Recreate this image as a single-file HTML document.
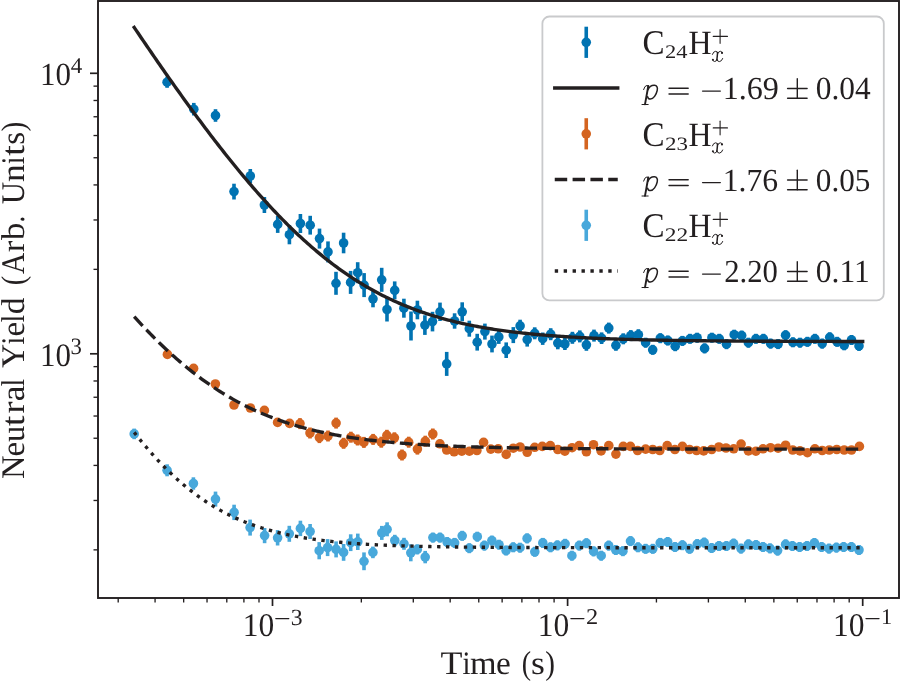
<!DOCTYPE html>
<html><head><meta charset="utf-8"><style>html,body{margin:0;padding:0;background:#fff;overflow:hidden}svg{display:block}text{font-family:"Liberation Serif",serif;text-rendering:geometricPrecision}</style></head><body><svg width="900" height="682" viewBox="0 0 900 682"><rect width="900" height="682" fill="#fff"/><defs><clipPath id="ax"><rect x="98" y="1" width="801" height="597"/></clipPath></defs><g clip-path="url(#ax)"><g stroke="#0173b2" stroke-width="3.6"><line x1="167.1" y1="76.6" x2="167.1" y2="87.8"/><line x1="193.8" y1="102.9" x2="193.8" y2="115.5"/><line x1="215.5" y1="109.2" x2="215.5" y2="121.8"/><line x1="234.0" y1="183.7" x2="234.0" y2="199.5"/><line x1="250.3" y1="169.0" x2="250.3" y2="183.0"/><line x1="264.4" y1="197.0" x2="264.4" y2="213.0"/><line x1="277.7" y1="215.9" x2="277.7" y2="232.9"/><line x1="289.4" y1="225.1" x2="289.4" y2="244.3"/><line x1="300.4" y1="214.0" x2="300.4" y2="233.0"/><line x1="310.2" y1="215.8" x2="310.2" y2="234.6"/><line x1="319.5" y1="228.6" x2="319.5" y2="248.6"/><line x1="328.0" y1="241.4" x2="328.0" y2="262.4"/><line x1="336.0" y1="271.8" x2="336.0" y2="294.8"/><line x1="343.6" y1="232.7" x2="343.6" y2="253.3"/><line x1="350.6" y1="270.9" x2="350.6" y2="293.9"/><line x1="357.7" y1="262.2" x2="357.7" y2="283.2"/><line x1="364.1" y1="273.1" x2="364.1" y2="297.1"/><line x1="373.0" y1="290.3" x2="373.0" y2="307.3"/><line x1="381.7" y1="267.8" x2="381.7" y2="291.8"/><line x1="387.0" y1="297.5" x2="387.0" y2="321.5"/><line x1="394.7" y1="281.4" x2="394.7" y2="299.4"/><line x1="403.9" y1="298.7" x2="403.9" y2="317.7"/><line x1="411.0" y1="311.5" x2="411.0" y2="340.5"/><line x1="417.4" y1="300.7" x2="417.4" y2="319.3"/><line x1="424.9" y1="315.3" x2="424.9" y2="334.9"/><line x1="432.5" y1="311.8" x2="432.5" y2="331.4"/><line x1="440.0" y1="302.6" x2="440.0" y2="321.0"/><line x1="446.7" y1="351.9" x2="446.7" y2="375.9"/><line x1="454.6" y1="313.3" x2="454.6" y2="328.7"/><line x1="462.2" y1="302.3" x2="462.2" y2="321.3"/><line x1="469.3" y1="320.7" x2="469.3" y2="336.7"/><line x1="477.2" y1="333.8" x2="477.2" y2="350.6"/><line x1="484.9" y1="323.6" x2="484.9" y2="339.6"/><line x1="492.0" y1="335.6" x2="492.0" y2="352.4"/><line x1="498.8" y1="329.9" x2="498.8" y2="343.9"/><line x1="506.2" y1="342.4" x2="506.2" y2="358.0"/><line x1="513.3" y1="327.1" x2="513.3" y2="343.1"/><line x1="520.1" y1="319.7" x2="520.1" y2="332.1"/><line x1="527.2" y1="332.6" x2="527.2" y2="346.6"/><line x1="534.7" y1="327.3" x2="534.7" y2="339.3"/><line x1="542.7" y1="332.5" x2="542.7" y2="344.9"/><line x1="550.7" y1="328.2" x2="550.7" y2="340.2"/><line x1="557.8" y1="336.9" x2="557.8" y2="349.3"/><line x1="564.9" y1="338.0" x2="564.9" y2="350.0"/><line x1="572.4" y1="331.8" x2="572.4" y2="343.8"/><line x1="579.8" y1="330.4" x2="579.8" y2="342.4"/><line x1="586.4" y1="338.8" x2="586.4" y2="350.8"/><line x1="594.0" y1="329.6" x2="594.0" y2="341.6"/><line x1="601.6" y1="332.4" x2="601.6" y2="344.0"/><line x1="608.8" y1="322.6" x2="608.8" y2="333.6"/><line x1="615.9" y1="339.8" x2="615.9" y2="350.8"/><line x1="623.3" y1="333.3" x2="623.3" y2="344.3"/><line x1="630.8" y1="330.1" x2="630.8" y2="341.1"/><line x1="638.4" y1="329.2" x2="638.4" y2="340.2"/><line x1="645.6" y1="337.7" x2="645.6" y2="347.7"/><line x1="652.7" y1="344.8" x2="652.7" y2="354.8"/><line x1="660.3" y1="333.2" x2="660.3" y2="343.2"/><line x1="667.8" y1="335.5" x2="667.8" y2="345.5"/><line x1="675.2" y1="341.2" x2="675.2" y2="351.2"/><line x1="682.4" y1="335.9" x2="682.4" y2="345.9"/><line x1="690.0" y1="333.8" x2="690.0" y2="343.8"/><line x1="697.1" y1="332.7" x2="697.1" y2="342.7"/><line x1="704.6" y1="343.4" x2="704.6" y2="353.4"/><line x1="711.9" y1="332.7" x2="711.9" y2="342.7"/><line x1="719.3" y1="333.8" x2="719.3" y2="343.8"/><line x1="726.5" y1="339.2" x2="726.5" y2="349.2"/><line x1="734.2" y1="329.7" x2="734.2" y2="339.7"/><line x1="741.7" y1="330.6" x2="741.7" y2="340.6"/><line x1="748.4" y1="337.7" x2="748.4" y2="347.7"/><line x1="755.9" y1="333.8" x2="755.9" y2="343.8"/><line x1="763.4" y1="333.8" x2="763.4" y2="343.8"/><line x1="770.6" y1="338.6" x2="770.6" y2="348.6"/><line x1="778.1" y1="339.1" x2="778.1" y2="349.1"/><line x1="785.6" y1="330.2" x2="785.6" y2="340.2"/><line x1="792.9" y1="337.3" x2="792.9" y2="347.3"/><line x1="800.0" y1="337.7" x2="800.0" y2="347.7"/><line x1="807.4" y1="336.8" x2="807.4" y2="346.8"/><line x1="814.9" y1="333.8" x2="814.9" y2="343.8"/><line x1="822.2" y1="338.6" x2="822.2" y2="348.6"/><line x1="829.7" y1="332.3" x2="829.7" y2="342.3"/><line x1="837.1" y1="336.8" x2="837.1" y2="346.8"/><line x1="844.2" y1="340.3" x2="844.2" y2="350.3"/><line x1="851.5" y1="335.0" x2="851.5" y2="345.0"/><line x1="859.0" y1="340.9" x2="859.0" y2="350.9"/></g><g fill="#0173b2"><circle cx="167.1" cy="82.2" r="4.8"/><circle cx="193.8" cy="109.2" r="4.8"/><circle cx="215.5" cy="115.5" r="4.8"/><circle cx="234.0" cy="191.6" r="4.8"/><circle cx="250.3" cy="176.0" r="4.8"/><circle cx="264.4" cy="205.0" r="4.8"/><circle cx="277.7" cy="224.4" r="4.8"/><circle cx="289.4" cy="234.7" r="4.8"/><circle cx="300.4" cy="223.5" r="4.8"/><circle cx="310.2" cy="225.2" r="4.8"/><circle cx="319.5" cy="238.6" r="4.8"/><circle cx="328.0" cy="251.9" r="4.8"/><circle cx="336.0" cy="283.3" r="4.8"/><circle cx="343.6" cy="243.0" r="4.8"/><circle cx="350.6" cy="282.4" r="4.8"/><circle cx="357.7" cy="272.7" r="4.8"/><circle cx="364.1" cy="285.1" r="4.8"/><circle cx="373.0" cy="298.8" r="4.8"/><circle cx="381.7" cy="279.8" r="4.8"/><circle cx="387.0" cy="309.5" r="4.8"/><circle cx="394.7" cy="290.4" r="4.8"/><circle cx="403.9" cy="308.2" r="4.8"/><circle cx="411.0" cy="326.0" r="4.8"/><circle cx="417.4" cy="310.0" r="4.8"/><circle cx="424.9" cy="325.1" r="4.8"/><circle cx="432.5" cy="321.6" r="4.8"/><circle cx="440.0" cy="311.8" r="4.8"/><circle cx="446.7" cy="363.9" r="4.8"/><circle cx="454.6" cy="321.0" r="4.8"/><circle cx="462.2" cy="311.8" r="4.8"/><circle cx="469.3" cy="328.7" r="4.8"/><circle cx="477.2" cy="342.2" r="4.8"/><circle cx="484.9" cy="331.6" r="4.8"/><circle cx="492.0" cy="344.0" r="4.8"/><circle cx="498.8" cy="336.9" r="4.8"/><circle cx="506.2" cy="350.2" r="4.8"/><circle cx="513.3" cy="335.1" r="4.8"/><circle cx="520.1" cy="325.9" r="4.8"/><circle cx="527.2" cy="339.6" r="4.8"/><circle cx="534.7" cy="333.3" r="4.8"/><circle cx="542.7" cy="338.7" r="4.8"/><circle cx="550.7" cy="334.2" r="4.8"/><circle cx="557.8" cy="343.1" r="4.8"/><circle cx="564.9" cy="344.0" r="4.8"/><circle cx="572.4" cy="337.8" r="4.8"/><circle cx="579.8" cy="336.4" r="4.8"/><circle cx="586.4" cy="344.8" r="4.8"/><circle cx="594.0" cy="335.6" r="4.8"/><circle cx="601.6" cy="338.2" r="4.8"/><circle cx="608.8" cy="328.1" r="4.8"/><circle cx="615.9" cy="345.3" r="4.8"/><circle cx="623.3" cy="338.8" r="4.8"/><circle cx="630.8" cy="335.6" r="4.8"/><circle cx="638.4" cy="334.7" r="4.8"/><circle cx="645.6" cy="342.7" r="4.8"/><circle cx="652.7" cy="349.8" r="4.8"/><circle cx="660.3" cy="338.2" r="4.8"/><circle cx="667.8" cy="340.5" r="4.8"/><circle cx="675.2" cy="346.2" r="4.8"/><circle cx="682.4" cy="340.9" r="4.8"/><circle cx="690.0" cy="338.8" r="4.8"/><circle cx="697.1" cy="337.7" r="4.8"/><circle cx="704.6" cy="348.4" r="4.8"/><circle cx="711.9" cy="337.7" r="4.8"/><circle cx="719.3" cy="338.8" r="4.8"/><circle cx="726.5" cy="344.2" r="4.8"/><circle cx="734.2" cy="334.7" r="4.8"/><circle cx="741.7" cy="335.6" r="4.8"/><circle cx="748.4" cy="342.7" r="4.8"/><circle cx="755.9" cy="338.8" r="4.8"/><circle cx="763.4" cy="338.8" r="4.8"/><circle cx="770.6" cy="343.6" r="4.8"/><circle cx="778.1" cy="344.1" r="4.8"/><circle cx="785.6" cy="335.2" r="4.8"/><circle cx="792.9" cy="342.3" r="4.8"/><circle cx="800.0" cy="342.7" r="4.8"/><circle cx="807.4" cy="341.8" r="4.8"/><circle cx="814.9" cy="338.8" r="4.8"/><circle cx="822.2" cy="343.6" r="4.8"/><circle cx="829.7" cy="337.3" r="4.8"/><circle cx="837.1" cy="341.8" r="4.8"/><circle cx="844.2" cy="345.3" r="4.8"/><circle cx="851.5" cy="340.0" r="4.8"/><circle cx="859.0" cy="345.9" r="4.8"/></g><g stroke="#d46420" stroke-width="3.6"><line x1="300.0" y1="418.1" x2="300.0" y2="429.1"/><line x1="310.0" y1="427.5" x2="310.0" y2="438.5"/><line x1="319.4" y1="432.1" x2="319.4" y2="443.1"/><line x1="328.0" y1="430.5" x2="328.0" y2="441.5"/><line x1="336.1" y1="417.6" x2="336.1" y2="428.6"/><line x1="343.6" y1="437.8" x2="343.6" y2="448.8"/><line x1="350.9" y1="431.7" x2="350.9" y2="442.7"/><line x1="357.6" y1="434.5" x2="357.6" y2="445.5"/><line x1="363.9" y1="436.9" x2="363.9" y2="447.9"/><line x1="373.1" y1="433.9" x2="373.1" y2="444.9"/><line x1="381.3" y1="436.7" x2="381.3" y2="447.7"/><line x1="386.9" y1="429.8" x2="386.9" y2="440.8"/><line x1="394.4" y1="432.3" x2="394.4" y2="443.3"/><line x1="402.0" y1="449.5" x2="402.0" y2="460.5"/><line x1="408.7" y1="436.7" x2="408.7" y2="447.7"/><line x1="417.4" y1="443.6" x2="417.4" y2="454.6"/><line x1="425.3" y1="435.7" x2="425.3" y2="446.7"/><line x1="432.8" y1="428.5" x2="432.8" y2="439.5"/></g><g fill="#d46420"><circle cx="167.4" cy="354.4" r="4.8"/><circle cx="193.6" cy="368.4" r="4.8"/><circle cx="215.4" cy="384.0" r="4.8"/><circle cx="234.0" cy="405.0" r="4.8"/><circle cx="250.4" cy="408.0" r="4.8"/><circle cx="264.4" cy="410.4" r="4.8"/><circle cx="277.6" cy="422.4" r="4.8"/><circle cx="289.6" cy="423.4" r="4.8"/><circle cx="300.0" cy="423.6" r="4.8"/><circle cx="310.0" cy="433.0" r="4.8"/><circle cx="319.4" cy="437.6" r="4.8"/><circle cx="328.0" cy="436.0" r="4.8"/><circle cx="336.1" cy="423.1" r="4.8"/><circle cx="343.6" cy="443.3" r="4.8"/><circle cx="350.9" cy="437.2" r="4.8"/><circle cx="357.6" cy="440.0" r="4.8"/><circle cx="363.9" cy="442.4" r="4.8"/><circle cx="373.1" cy="439.4" r="4.8"/><circle cx="381.3" cy="442.2" r="4.8"/><circle cx="386.9" cy="435.3" r="4.8"/><circle cx="394.4" cy="437.8" r="4.8"/><circle cx="402.0" cy="455.0" r="4.8"/><circle cx="408.7" cy="442.2" r="4.8"/><circle cx="417.4" cy="449.1" r="4.8"/><circle cx="425.3" cy="441.2" r="4.8"/><circle cx="432.8" cy="434.0" r="4.8"/><circle cx="439.9" cy="443.8" r="4.8"/><circle cx="446.7" cy="450.0" r="4.8"/><circle cx="454.1" cy="451.8" r="4.8"/><circle cx="461.8" cy="451.2" r="4.8"/><circle cx="469.4" cy="451.2" r="4.8"/><circle cx="476.9" cy="450.5" r="4.8"/><circle cx="483.6" cy="442.4" r="4.8"/><circle cx="490.8" cy="449.1" r="4.8"/><circle cx="498.2" cy="448.8" r="4.8"/><circle cx="506.2" cy="454.4" r="4.8"/><circle cx="513.3" cy="448.2" r="4.8"/><circle cx="520.1" cy="447.0" r="4.8"/><circle cx="527.2" cy="452.3" r="4.8"/><circle cx="534.7" cy="447.3" r="4.8"/><circle cx="542.3" cy="446.4" r="4.8"/><circle cx="550.3" cy="445.6" r="4.8"/><circle cx="557.8" cy="449.5" r="4.8"/><circle cx="564.9" cy="451.2" r="4.8"/><circle cx="572.1" cy="447.7" r="4.8"/><circle cx="579.2" cy="445.6" r="4.8"/><circle cx="586.4" cy="451.8" r="4.8"/><circle cx="593.5" cy="444.7" r="4.8"/><circle cx="601.1" cy="450.9" r="4.8"/><circle cx="608.8" cy="445.6" r="4.8"/><circle cx="615.9" cy="454.1" r="4.8"/><circle cx="623.3" cy="446.4" r="4.8"/><circle cx="630.4" cy="446.4" r="4.8"/><circle cx="637.6" cy="450.5" r="4.8"/><circle cx="645.6" cy="449.1" r="4.8"/><circle cx="652.7" cy="449.5" r="4.8"/><circle cx="659.8" cy="450.5" r="4.8"/><circle cx="667.2" cy="445.6" r="4.8"/><circle cx="674.9" cy="449.5" r="4.8"/><circle cx="682.4" cy="446.4" r="4.8"/><circle cx="689.5" cy="449.5" r="4.8"/><circle cx="696.6" cy="450.5" r="4.8"/><circle cx="703.7" cy="450.9" r="4.8"/><circle cx="711.7" cy="449.5" r="4.8"/><circle cx="718.9" cy="447.0" r="4.8"/><circle cx="726.0" cy="448.0" r="4.8"/><circle cx="733.7" cy="448.8" r="4.8"/><circle cx="741.1" cy="444.1" r="4.8"/><circle cx="748.4" cy="450.9" r="4.8"/><circle cx="755.9" cy="451.2" r="4.8"/><circle cx="763.0" cy="448.8" r="4.8"/><circle cx="770.5" cy="447.7" r="4.8"/><circle cx="778.1" cy="448.2" r="4.8"/><circle cx="785.6" cy="445.2" r="4.8"/><circle cx="792.7" cy="450.0" r="4.8"/><circle cx="800.0" cy="450.9" r="4.8"/><circle cx="807.4" cy="452.7" r="4.8"/><circle cx="814.9" cy="448.8" r="4.8"/><circle cx="822.2" cy="450.5" r="4.8"/><circle cx="829.3" cy="450.0" r="4.8"/><circle cx="836.8" cy="449.5" r="4.8"/><circle cx="844.2" cy="450.0" r="4.8"/><circle cx="851.5" cy="450.0" r="4.8"/><circle cx="859.4" cy="446.4" r="4.8"/></g><g stroke="#48a8db" stroke-width="3.6"><line x1="134.2" y1="428.6" x2="134.2" y2="439.2"/><line x1="167.1" y1="464.3" x2="167.1" y2="476.3"/><line x1="193.4" y1="477.3" x2="193.4" y2="489.7"/><line x1="215.5" y1="491.6" x2="215.5" y2="506.6"/><line x1="234.1" y1="504.7" x2="234.1" y2="520.1"/><line x1="250.1" y1="519.6" x2="250.1" y2="535.6"/><line x1="264.6" y1="528.0" x2="264.6" y2="543.2"/><line x1="277.6" y1="530.1" x2="277.6" y2="545.5"/><line x1="289.3" y1="525.8" x2="289.3" y2="541.8"/><line x1="300.4" y1="520.7" x2="300.4" y2="536.1"/><line x1="310.1" y1="524.0" x2="310.1" y2="539.0"/><line x1="319.2" y1="542.1" x2="319.2" y2="559.3"/><line x1="327.6" y1="539.1" x2="327.6" y2="556.1"/><line x1="336.1" y1="541.4" x2="336.1" y2="557.4"/><line x1="343.6" y1="544.0" x2="343.6" y2="560.8"/><line x1="350.7" y1="534.3" x2="350.7" y2="551.1"/><line x1="357.8" y1="533.6" x2="357.8" y2="550.0"/><line x1="364.0" y1="552.4" x2="364.0" y2="570.2"/><line x1="372.9" y1="546.6" x2="372.9" y2="558.2"/><line x1="381.8" y1="525.9" x2="381.8" y2="539.9"/><line x1="387.1" y1="522.3" x2="387.1" y2="536.3"/><line x1="394.8" y1="534.8" x2="394.8" y2="546.2"/><line x1="404.0" y1="537.8" x2="404.0" y2="549.8"/><line x1="410.8" y1="544.3" x2="410.8" y2="561.3"/><line x1="417.3" y1="544.4" x2="417.3" y2="554.4"/><line x1="425.2" y1="550.9" x2="425.2" y2="563.3"/><line x1="432.9" y1="532.6" x2="432.9" y2="542.6"/><line x1="440.0" y1="532.6" x2="440.0" y2="542.6"/><line x1="447.1" y1="537.0" x2="447.1" y2="547.0"/><line x1="454.6" y1="537.9" x2="454.6" y2="547.9"/><line x1="462.2" y1="530.8" x2="462.2" y2="540.8"/><line x1="469.3" y1="543.2" x2="469.3" y2="553.2"/><line x1="477.3" y1="531.7" x2="477.3" y2="541.7"/><line x1="484.4" y1="540.6" x2="484.4" y2="550.6"/><line x1="491.9" y1="535.6" x2="491.9" y2="545.6"/><line x1="499.0" y1="539.7" x2="499.0" y2="549.7"/><line x1="506.1" y1="545.5" x2="506.1" y2="555.5"/><line x1="513.2" y1="542.3" x2="513.2" y2="552.3"/><line x1="520.0" y1="542.7" x2="520.0" y2="552.7"/><line x1="527.1" y1="533.4" x2="527.1" y2="543.4"/><line x1="534.8" y1="546.8" x2="534.8" y2="556.8"/><line x1="542.8" y1="537.9" x2="542.8" y2="547.9"/><line x1="550.5" y1="542.3" x2="550.5" y2="552.3"/><line x1="557.4" y1="540.4" x2="557.4" y2="550.4"/><line x1="565.1" y1="538.8" x2="565.1" y2="548.8"/><line x1="571.9" y1="550.7" x2="571.9" y2="560.7"/><line x1="579.3" y1="540.6" x2="579.3" y2="550.6"/><line x1="586.4" y1="538.2" x2="586.4" y2="548.2"/><line x1="593.6" y1="546.4" x2="593.6" y2="556.4"/><line x1="601.2" y1="550.7" x2="601.2" y2="560.7"/><line x1="608.7" y1="540.6" x2="608.7" y2="550.6"/><line x1="615.8" y1="545.0" x2="615.8" y2="555.0"/><line x1="622.9" y1="546.2" x2="622.9" y2="556.2"/><line x1="630.5" y1="536.1" x2="630.5" y2="546.1"/><line x1="638.0" y1="542.3" x2="638.0" y2="552.3"/><line x1="645.6" y1="543.8" x2="645.6" y2="553.8"/><line x1="652.8" y1="543.8" x2="652.8" y2="553.8"/><line x1="660.2" y1="537.9" x2="660.2" y2="547.9"/><line x1="667.7" y1="537.0" x2="667.7" y2="547.0"/><line x1="675.0" y1="542.0" x2="675.0" y2="552.0"/><line x1="682.4" y1="540.2" x2="682.4" y2="550.2"/><line x1="689.6" y1="543.8" x2="689.6" y2="553.8"/><line x1="697.2" y1="539.1" x2="697.2" y2="549.1"/><line x1="704.2" y1="537.6" x2="704.2" y2="547.6"/><line x1="711.6" y1="543.0" x2="711.6" y2="553.0"/><line x1="719.0" y1="541.0" x2="719.0" y2="551.0"/><line x1="726.4" y1="541.0" x2="726.4" y2="551.0"/><line x1="733.6" y1="538.6" x2="733.6" y2="548.6"/><line x1="741.0" y1="543.6" x2="741.0" y2="553.6"/><line x1="748.4" y1="539.4" x2="748.4" y2="549.4"/><line x1="756.0" y1="540.0" x2="756.0" y2="550.0"/><line x1="763.0" y1="542.0" x2="763.0" y2="552.0"/><line x1="770.0" y1="543.4" x2="770.0" y2="553.4"/><line x1="777.6" y1="545.6" x2="777.6" y2="555.6"/><line x1="785.6" y1="539.4" x2="785.6" y2="549.4"/><line x1="792.4" y1="541.0" x2="792.4" y2="551.0"/><line x1="799.6" y1="542.0" x2="799.6" y2="552.0"/><line x1="807.0" y1="541.0" x2="807.0" y2="551.0"/><line x1="814.4" y1="538.0" x2="814.4" y2="548.0"/><line x1="821.6" y1="542.0" x2="821.6" y2="552.0"/><line x1="829.0" y1="543.6" x2="829.0" y2="553.6"/><line x1="836.4" y1="542.6" x2="836.4" y2="552.6"/><line x1="843.6" y1="542.0" x2="843.6" y2="552.0"/><line x1="851.4" y1="542.0" x2="851.4" y2="552.0"/><line x1="859.0" y1="545.0" x2="859.0" y2="555.0"/></g><g fill="#48a8db"><circle cx="134.2" cy="433.9" r="4.8"/><circle cx="167.1" cy="470.3" r="4.8"/><circle cx="193.4" cy="483.5" r="4.8"/><circle cx="215.5" cy="499.1" r="4.8"/><circle cx="234.1" cy="512.4" r="4.8"/><circle cx="250.1" cy="527.6" r="4.8"/><circle cx="264.6" cy="535.6" r="4.8"/><circle cx="277.6" cy="537.8" r="4.8"/><circle cx="289.3" cy="533.8" r="4.8"/><circle cx="300.4" cy="528.4" r="4.8"/><circle cx="310.1" cy="531.5" r="4.8"/><circle cx="319.2" cy="550.7" r="4.8"/><circle cx="327.6" cy="547.6" r="4.8"/><circle cx="336.1" cy="549.4" r="4.8"/><circle cx="343.6" cy="552.4" r="4.8"/><circle cx="350.7" cy="542.7" r="4.8"/><circle cx="357.8" cy="541.8" r="4.8"/><circle cx="364.0" cy="561.3" r="4.8"/><circle cx="372.9" cy="552.4" r="4.8"/><circle cx="381.8" cy="532.9" r="4.8"/><circle cx="387.1" cy="529.3" r="4.8"/><circle cx="394.8" cy="540.5" r="4.8"/><circle cx="404.0" cy="543.8" r="4.8"/><circle cx="410.8" cy="552.8" r="4.8"/><circle cx="417.3" cy="549.4" r="4.8"/><circle cx="425.2" cy="557.1" r="4.8"/><circle cx="432.9" cy="537.6" r="4.8"/><circle cx="440.0" cy="537.6" r="4.8"/><circle cx="447.1" cy="542.0" r="4.8"/><circle cx="454.6" cy="542.9" r="4.8"/><circle cx="462.2" cy="535.8" r="4.8"/><circle cx="469.3" cy="548.2" r="4.8"/><circle cx="477.3" cy="536.7" r="4.8"/><circle cx="484.4" cy="545.6" r="4.8"/><circle cx="491.9" cy="540.6" r="4.8"/><circle cx="499.0" cy="544.7" r="4.8"/><circle cx="506.1" cy="550.5" r="4.8"/><circle cx="513.2" cy="547.3" r="4.8"/><circle cx="520.0" cy="547.7" r="4.8"/><circle cx="527.1" cy="538.4" r="4.8"/><circle cx="534.8" cy="551.8" r="4.8"/><circle cx="542.8" cy="542.9" r="4.8"/><circle cx="550.5" cy="547.3" r="4.8"/><circle cx="557.4" cy="545.4" r="4.8"/><circle cx="565.1" cy="543.8" r="4.8"/><circle cx="571.9" cy="555.7" r="4.8"/><circle cx="579.3" cy="545.6" r="4.8"/><circle cx="586.4" cy="543.2" r="4.8"/><circle cx="593.6" cy="551.4" r="4.8"/><circle cx="601.2" cy="555.7" r="4.8"/><circle cx="608.7" cy="545.6" r="4.8"/><circle cx="615.8" cy="550.0" r="4.8"/><circle cx="622.9" cy="551.2" r="4.8"/><circle cx="630.5" cy="541.1" r="4.8"/><circle cx="638.0" cy="547.3" r="4.8"/><circle cx="645.6" cy="548.8" r="4.8"/><circle cx="652.8" cy="548.8" r="4.8"/><circle cx="660.2" cy="542.9" r="4.8"/><circle cx="667.7" cy="542.0" r="4.8"/><circle cx="675.0" cy="547.0" r="4.8"/><circle cx="682.4" cy="545.2" r="4.8"/><circle cx="689.6" cy="548.8" r="4.8"/><circle cx="697.2" cy="544.1" r="4.8"/><circle cx="704.2" cy="542.6" r="4.8"/><circle cx="711.6" cy="548.0" r="4.8"/><circle cx="719.0" cy="546.0" r="4.8"/><circle cx="726.4" cy="546.0" r="4.8"/><circle cx="733.6" cy="543.6" r="4.8"/><circle cx="741.0" cy="548.6" r="4.8"/><circle cx="748.4" cy="544.4" r="4.8"/><circle cx="756.0" cy="545.0" r="4.8"/><circle cx="763.0" cy="547.0" r="4.8"/><circle cx="770.0" cy="548.4" r="4.8"/><circle cx="777.6" cy="550.6" r="4.8"/><circle cx="785.6" cy="544.4" r="4.8"/><circle cx="792.4" cy="546.0" r="4.8"/><circle cx="799.6" cy="547.0" r="4.8"/><circle cx="807.0" cy="546.0" r="4.8"/><circle cx="814.4" cy="543.0" r="4.8"/><circle cx="821.6" cy="547.0" r="4.8"/><circle cx="829.0" cy="548.6" r="4.8"/><circle cx="836.4" cy="547.6" r="4.8"/><circle cx="843.6" cy="547.0" r="4.8"/><circle cx="851.4" cy="547.0" r="4.8"/><circle cx="859.0" cy="550.0" r="4.8"/></g><path d="M134.20,27.39 L136.03,30.10 L137.85,32.80 L139.68,35.50 L141.50,38.19 L143.33,40.88 L145.15,43.56 L146.98,46.24 L148.81,48.91 L150.63,51.57 L152.46,54.23 L154.28,56.88 L156.11,59.53 L157.94,62.17 L159.76,64.80 L161.59,67.43 L163.41,70.05 L165.24,72.66 L167.06,75.27 L168.89,77.87 L170.72,80.46 L172.54,83.05 L174.37,85.63 L176.19,88.20 L178.02,90.76 L179.85,93.32 L181.67,95.86 L183.50,98.40 L185.32,100.93 L187.15,103.45 L188.97,105.97 L190.80,108.47 L192.63,110.97 L194.45,113.45 L196.28,115.93 L198.10,118.40 L199.93,120.86 L201.76,123.31 L203.58,125.75 L205.41,128.18 L207.23,130.60 L209.06,133.00 L210.88,135.40 L212.71,137.79 L214.54,140.17 L216.36,142.53 L218.19,144.89 L220.01,147.23 L221.84,149.57 L223.66,151.89 L225.49,154.20 L227.32,156.49 L229.14,158.78 L230.97,161.05 L232.79,163.31 L234.62,165.56 L236.45,167.79 L238.27,170.02 L240.10,172.23 L241.92,174.42 L243.75,176.60 L245.57,178.77 L247.40,180.93 L249.23,183.07 L251.05,185.20 L252.88,187.31 L254.70,189.41 L256.53,191.50 L258.36,193.57 L260.18,195.62 L262.01,197.66 L263.83,199.69 L265.66,201.70 L267.48,203.69 L269.31,205.67 L271.14,207.64 L272.96,209.58 L274.79,211.52 L276.61,213.43 L278.44,215.33 L280.27,217.22 L282.09,219.09 L283.92,220.94 L285.74,222.77 L287.57,224.59 L289.39,226.40 L291.22,228.18 L293.05,229.95 L294.87,231.70 L296.70,233.44 L298.52,235.15 L300.35,236.85 L302.17,238.54 L304.00,240.20 L305.83,241.85 L307.65,243.48 L309.48,245.09 L311.30,246.69 L313.13,248.27 L314.96,249.83 L316.78,251.37 L318.61,252.90 L320.43,254.41 L322.26,255.90 L324.08,257.37 L325.91,258.82 L327.74,260.26 L329.56,261.68 L331.39,263.08 L333.21,264.47 L335.04,265.84 L336.87,267.18 L338.69,268.52 L340.52,269.83 L342.34,271.13 L344.17,272.41 L345.99,273.67 L347.82,274.91 L349.65,276.14 L351.47,277.35 L353.30,278.55 L355.12,279.72 L356.95,280.88 L358.78,282.03 L360.60,283.15 L362.43,284.26 L364.25,285.35 L366.08,286.43 L367.90,287.49 L369.73,288.53 L371.56,289.56 L373.38,290.57 L375.21,291.57 L377.03,292.55 L378.86,293.51 L380.68,294.46 L382.51,295.39 L384.34,296.31 L386.16,297.22 L387.99,298.10 L389.81,298.98 L391.64,299.83 L393.47,300.68 L395.29,301.51 L397.12,302.32 L398.94,303.12 L400.77,303.91 L402.59,304.69 L404.42,305.45 L406.25,306.19 L408.07,306.92 L409.90,307.64 L411.72,308.35 L413.55,309.05 L415.38,309.73 L417.20,310.40 L419.03,311.05 L420.85,311.70 L422.68,312.33 L424.50,312.95 L426.33,313.56 L428.16,314.16 L429.98,314.74 L431.81,315.32 L433.63,315.88 L435.46,316.43 L437.29,316.97 L439.11,317.51 L440.94,318.03 L442.76,318.54 L444.59,319.04 L446.41,319.53 L448.24,320.01 L450.07,320.48 L451.89,320.94 L453.72,321.40 L455.54,321.84 L457.37,322.27 L459.19,322.70 L461.02,323.12 L462.85,323.53 L464.67,323.93 L466.50,324.32 L468.32,324.70 L470.15,325.08 L471.98,325.44 L473.80,325.80 L475.63,326.16 L477.45,326.50 L479.28,326.84 L481.10,327.17 L482.93,327.50 L484.76,327.81 L486.58,328.12 L488.41,328.43 L490.23,328.72 L492.06,329.02 L493.89,329.30 L495.71,329.58 L497.54,329.85 L499.36,330.12 L501.19,330.38 L503.01,330.63 L504.84,330.88 L506.67,331.13 L508.49,331.37 L510.32,331.60 L512.14,331.83 L513.97,332.05 L515.80,332.27 L517.62,332.48 L519.45,332.69 L521.27,332.90 L523.10,333.10 L524.92,333.29 L526.75,333.48 L528.58,333.67 L530.40,333.85 L532.23,334.03 L534.05,334.21 L535.88,334.38 L537.71,334.54 L539.53,334.71 L541.36,334.87 L543.18,335.02 L545.01,335.17 L546.83,335.32 L548.66,335.47 L550.49,335.61 L552.31,335.75 L554.14,335.88 L555.96,336.02 L557.79,336.15 L559.61,336.27 L561.44,336.40 L563.27,336.52 L565.09,336.64 L566.92,336.75 L568.74,336.87 L570.57,336.98 L572.40,337.08 L574.22,337.19 L576.05,337.29 L577.87,337.39 L579.70,337.49 L581.52,337.59 L583.35,337.68 L585.18,337.77 L587.00,337.86 L588.83,337.95 L590.65,338.03 L592.48,338.12 L594.31,338.20 L596.13,338.28 L597.96,338.36 L599.78,338.43 L601.61,338.51 L603.43,338.58 L605.26,338.65 L607.09,338.72 L608.91,338.79 L610.74,338.85 L612.56,338.92 L614.39,338.98 L616.22,339.04 L618.04,339.10 L619.87,339.16 L621.69,339.22 L623.52,339.27 L625.34,339.33 L627.17,339.38 L629.00,339.43 L630.82,339.49 L632.65,339.53 L634.47,339.58 L636.30,339.63 L638.12,339.68 L639.95,339.72 L641.78,339.77 L643.60,339.81 L645.43,339.85 L647.25,339.89 L649.08,339.93 L650.91,339.97 L652.73,340.01 L654.56,340.05 L656.38,340.08 L658.21,340.12 L660.03,340.16 L661.86,340.19 L663.69,340.22 L665.51,340.25 L667.34,340.29 L669.16,340.32 L670.99,340.35 L672.82,340.38 L674.64,340.41 L676.47,340.43 L678.29,340.46 L680.12,340.49 L681.94,340.51 L683.77,340.54 L685.60,340.56 L687.42,340.59 L689.25,340.61 L691.07,340.64 L692.90,340.66 L694.73,340.68 L696.55,340.70 L698.38,340.72 L700.20,340.74 L702.03,340.76 L703.85,340.78 L705.68,340.80 L707.51,340.82 L709.33,340.84 L711.16,340.86 L712.98,340.88 L714.81,340.89 L716.63,340.91 L718.46,340.93 L720.29,340.94 L722.11,340.96 L723.94,340.97 L725.76,340.99 L727.59,341.00 L729.42,341.01 L731.24,341.03 L733.07,341.04 L734.89,341.06 L736.72,341.07 L738.54,341.08 L740.37,341.09 L742.20,341.10 L744.02,341.12 L745.85,341.13 L747.67,341.14 L749.50,341.15 L751.33,341.16 L753.15,341.17 L754.98,341.18 L756.80,341.19 L758.63,341.20 L760.45,341.21 L762.28,341.22 L764.11,341.23 L765.93,341.24 L767.76,341.24 L769.58,341.25 L771.41,341.26 L773.24,341.27 L775.06,341.28 L776.89,341.28 L778.71,341.29 L780.54,341.30 L782.36,341.30 L784.19,341.31 L786.02,341.32 L787.84,341.32 L789.67,341.33 L791.49,341.34 L793.32,341.34 L795.14,341.35 L796.97,341.36 L798.80,341.36 L800.62,341.37 L802.45,341.37 L804.27,341.38 L806.10,341.38 L807.93,341.39 L809.75,341.39 L811.58,341.40 L813.40,341.40 L815.23,341.41 L817.05,341.41 L818.88,341.41 L820.71,341.42 L822.53,341.42 L824.36,341.43 L826.18,341.43 L828.01,341.44 L829.84,341.44 L831.66,341.44 L833.49,341.45 L835.31,341.45 L837.14,341.45 L838.96,341.46 L840.79,341.46 L842.62,341.46 L844.44,341.47 L846.27,341.47 L848.09,341.47 L849.92,341.47 L851.75,341.48 L853.57,341.48 L855.40,341.48 L857.22,341.49 L859.05,341.49 L860.87,341.49 L862.70,341.49" fill="none" stroke="#231f20" stroke-width="3.366" stroke-linecap="square" stroke-linejoin="round"/><path d="M134.20,316.65 L136.03,318.67 L137.85,320.67 L139.68,322.65 L141.50,324.61 L143.33,326.56 L145.15,328.49 L146.98,330.40 L148.81,332.29 L150.63,334.17 L152.46,336.02 L154.28,337.86 L156.11,339.68 L157.94,341.48 L159.76,343.27 L161.59,345.03 L163.41,346.78 L165.24,348.50 L167.06,350.21 L168.89,351.90 L170.72,353.57 L172.54,355.22 L174.37,356.85 L176.19,358.47 L178.02,360.06 L179.85,361.64 L181.67,363.19 L183.50,364.73 L185.32,366.24 L187.15,367.74 L188.97,369.22 L190.80,370.68 L192.63,372.12 L194.45,373.54 L196.28,374.95 L198.10,376.33 L199.93,377.70 L201.76,379.04 L203.58,380.37 L205.41,381.68 L207.23,382.97 L209.06,384.24 L210.88,385.49 L212.71,386.72 L214.54,387.94 L216.36,389.14 L218.19,390.31 L220.01,391.48 L221.84,392.62 L223.66,393.74 L225.49,394.85 L227.32,395.94 L229.14,397.01 L230.97,398.07 L232.79,399.10 L234.62,400.12 L236.45,401.13 L238.27,402.11 L240.10,403.08 L241.92,404.04 L243.75,404.97 L245.57,405.90 L247.40,406.80 L249.23,407.69 L251.05,408.56 L252.88,409.42 L254.70,410.26 L256.53,411.09 L258.36,411.90 L260.18,412.70 L262.01,413.48 L263.83,414.25 L265.66,415.00 L267.48,415.74 L269.31,416.47 L271.14,417.18 L272.96,417.88 L274.79,418.56 L276.61,419.23 L278.44,419.89 L280.27,420.54 L282.09,421.17 L283.92,421.79 L285.74,422.40 L287.57,422.99 L289.39,423.58 L291.22,424.15 L293.05,424.71 L294.87,425.26 L296.70,425.80 L298.52,426.33 L300.35,426.84 L302.17,427.35 L304.00,427.84 L305.83,428.33 L307.65,428.80 L309.48,429.27 L311.30,429.72 L313.13,430.17 L314.96,430.60 L316.78,431.03 L318.61,431.45 L320.43,431.86 L322.26,432.26 L324.08,432.65 L325.91,433.03 L327.74,433.40 L329.56,433.77 L331.39,434.13 L333.21,434.48 L335.04,434.82 L336.87,435.16 L338.69,435.48 L340.52,435.80 L342.34,436.12 L344.17,436.42 L345.99,436.72 L347.82,437.01 L349.65,437.30 L351.47,437.58 L353.30,437.85 L355.12,438.12 L356.95,438.38 L358.78,438.64 L360.60,438.89 L362.43,439.13 L364.25,439.37 L366.08,439.60 L367.90,439.83 L369.73,440.05 L371.56,440.27 L373.38,440.48 L375.21,440.69 L377.03,440.89 L378.86,441.09 L380.68,441.28 L382.51,441.47 L384.34,441.65 L386.16,441.83 L387.99,442.01 L389.81,442.18 L391.64,442.35 L393.47,442.51 L395.29,442.67 L397.12,442.83 L398.94,442.98 L400.77,443.13 L402.59,443.27 L404.42,443.42 L406.25,443.55 L408.07,443.69 L409.90,443.82 L411.72,443.95 L413.55,444.08 L415.38,444.20 L417.20,444.32 L419.03,444.44 L420.85,444.55 L422.68,444.66 L424.50,444.77 L426.33,444.88 L428.16,444.98 L429.98,445.08 L431.81,445.18 L433.63,445.28 L435.46,445.37 L437.29,445.46 L439.11,445.55 L440.94,445.64 L442.76,445.73 L444.59,445.81 L446.41,445.89 L448.24,445.97 L450.07,446.05 L451.89,446.12 L453.72,446.20 L455.54,446.27 L457.37,446.34 L459.19,446.41 L461.02,446.48 L462.85,446.54 L464.67,446.60 L466.50,446.67 L468.32,446.73 L470.15,446.79 L471.98,446.84 L473.80,446.90 L475.63,446.96 L477.45,447.01 L479.28,447.06 L481.10,447.11 L482.93,447.16 L484.76,447.21 L486.58,447.26 L488.41,447.30 L490.23,447.35 L492.06,447.39 L493.89,447.44 L495.71,447.48 L497.54,447.52 L499.36,447.56 L501.19,447.60 L503.01,447.64 L504.84,447.67 L506.67,447.71 L508.49,447.74 L510.32,447.78 L512.14,447.81 L513.97,447.85 L515.80,447.88 L517.62,447.91 L519.45,447.94 L521.27,447.97 L523.10,448.00 L524.92,448.03 L526.75,448.05 L528.58,448.08 L530.40,448.11 L532.23,448.13 L534.05,448.16 L535.88,448.18 L537.71,448.20 L539.53,448.23 L541.36,448.25 L543.18,448.27 L545.01,448.29 L546.83,448.31 L548.66,448.33 L550.49,448.35 L552.31,448.37 L554.14,448.39 L555.96,448.41 L557.79,448.43 L559.61,448.45 L561.44,448.46 L563.27,448.48 L565.09,448.50 L566.92,448.51 L568.74,448.53 L570.57,448.54 L572.40,448.56 L574.22,448.57 L576.05,448.59 L577.87,448.60 L579.70,448.61 L581.52,448.63 L583.35,448.64 L585.18,448.65 L587.00,448.66 L588.83,448.68 L590.65,448.69 L592.48,448.70 L594.31,448.71 L596.13,448.72 L597.96,448.73 L599.78,448.74 L601.61,448.75 L603.43,448.76 L605.26,448.77 L607.09,448.78 L608.91,448.79 L610.74,448.80 L612.56,448.80 L614.39,448.81 L616.22,448.82 L618.04,448.83 L619.87,448.84 L621.69,448.84 L623.52,448.85 L625.34,448.86 L627.17,448.87 L629.00,448.87 L630.82,448.88 L632.65,448.89 L634.47,448.89 L636.30,448.90 L638.12,448.90 L639.95,448.91 L641.78,448.92 L643.60,448.92 L645.43,448.93 L647.25,448.93 L649.08,448.94 L650.91,448.94 L652.73,448.95 L654.56,448.95 L656.38,448.96 L658.21,448.96 L660.03,448.97 L661.86,448.97 L663.69,448.97 L665.51,448.98 L667.34,448.98 L669.16,448.99 L670.99,448.99 L672.82,448.99 L674.64,449.00 L676.47,449.00 L678.29,449.00 L680.12,449.01 L681.94,449.01 L683.77,449.01 L685.60,449.02 L687.42,449.02 L689.25,449.02 L691.07,449.03 L692.90,449.03 L694.73,449.03 L696.55,449.03 L698.38,449.04 L700.20,449.04 L702.03,449.04 L703.85,449.04 L705.68,449.05 L707.51,449.05 L709.33,449.05 L711.16,449.05 L712.98,449.06 L714.81,449.06 L716.63,449.06 L718.46,449.06 L720.29,449.06 L722.11,449.07 L723.94,449.07 L725.76,449.07 L727.59,449.07 L729.42,449.07 L731.24,449.07 L733.07,449.08 L734.89,449.08 L736.72,449.08 L738.54,449.08 L740.37,449.08 L742.20,449.08 L744.02,449.08 L745.85,449.09 L747.67,449.09 L749.50,449.09 L751.33,449.09 L753.15,449.09 L754.98,449.09 L756.80,449.09 L758.63,449.09 L760.45,449.10 L762.28,449.10 L764.11,449.10 L765.93,449.10 L767.76,449.10 L769.58,449.10 L771.41,449.10 L773.24,449.10 L775.06,449.10 L776.89,449.11 L778.71,449.11 L780.54,449.11 L782.36,449.11 L784.19,449.11 L786.02,449.11 L787.84,449.11 L789.67,449.11 L791.49,449.11 L793.32,449.11 L795.14,449.11 L796.97,449.11 L798.80,449.11 L800.62,449.11 L802.45,449.12 L804.27,449.12 L806.10,449.12 L807.93,449.12 L809.75,449.12 L811.58,449.12 L813.40,449.12 L815.23,449.12 L817.05,449.12 L818.88,449.12 L820.71,449.12 L822.53,449.12 L824.36,449.12 L826.18,449.12 L828.01,449.12 L829.84,449.12 L831.66,449.12 L833.49,449.12 L835.31,449.12 L837.14,449.12 L838.96,449.13 L840.79,449.13 L842.62,449.13 L844.44,449.13 L846.27,449.13 L848.09,449.13 L849.92,449.13 L851.75,449.13 L853.57,449.13 L855.40,449.13 L857.22,449.13 L859.05,449.13 L860.87,449.13 L862.70,449.13" fill="none" stroke="#231f20" stroke-width="3.366" stroke-dasharray="12.454 5.386" stroke-linecap="butt"/><path d="M134.20,432.35 L136.03,434.68 L137.85,436.97 L139.68,439.24 L141.50,441.47 L143.33,443.68 L145.15,445.86 L146.98,448.01 L148.81,450.13 L150.63,452.22 L152.46,454.28 L154.28,456.31 L156.11,458.31 L157.94,460.28 L159.76,462.22 L161.59,464.13 L163.41,466.01 L165.24,467.87 L167.06,469.69 L168.89,471.48 L170.72,473.24 L172.54,474.97 L174.37,476.67 L176.19,478.35 L178.02,479.99 L179.85,481.61 L181.67,483.19 L183.50,484.75 L185.32,486.27 L187.15,487.77 L188.97,489.24 L190.80,490.68 L192.63,492.10 L194.45,493.49 L196.28,494.84 L198.10,496.18 L199.93,497.48 L201.76,498.76 L203.58,500.01 L205.41,501.23 L207.23,502.43 L209.06,503.61 L210.88,504.75 L212.71,505.88 L214.54,506.97 L216.36,508.05 L218.19,509.10 L220.01,510.12 L221.84,511.13 L223.66,512.11 L225.49,513.06 L227.32,514.00 L229.14,514.91 L230.97,515.80 L232.79,516.67 L234.62,517.52 L236.45,518.35 L238.27,519.16 L240.10,519.95 L241.92,520.72 L243.75,521.47 L245.57,522.20 L247.40,522.91 L249.23,523.61 L251.05,524.29 L252.88,524.95 L254.70,525.59 L256.53,526.22 L258.36,526.83 L260.18,527.42 L262.01,528.00 L263.83,528.56 L265.66,529.11 L267.48,529.65 L269.31,530.17 L271.14,530.67 L272.96,531.17 L274.79,531.65 L276.61,532.11 L278.44,532.57 L280.27,533.01 L282.09,533.44 L283.92,533.85 L285.74,534.26 L287.57,534.65 L289.39,535.04 L291.22,535.41 L293.05,535.77 L294.87,536.13 L296.70,536.47 L298.52,536.80 L300.35,537.12 L302.17,537.44 L304.00,537.74 L305.83,538.04 L307.65,538.33 L309.48,538.61 L311.30,538.88 L313.13,539.15 L314.96,539.40 L316.78,539.65 L318.61,539.89 L320.43,540.13 L322.26,540.36 L324.08,540.58 L325.91,540.79 L327.74,541.00 L329.56,541.20 L331.39,541.40 L333.21,541.59 L335.04,541.78 L336.87,541.96 L338.69,542.13 L340.52,542.30 L342.34,542.47 L344.17,542.63 L345.99,542.78 L347.82,542.93 L349.65,543.08 L351.47,543.22 L353.30,543.35 L355.12,543.49 L356.95,543.62 L358.78,543.74 L360.60,543.86 L362.43,543.98 L364.25,544.10 L366.08,544.21 L367.90,544.32 L369.73,544.42 L371.56,544.52 L373.38,544.62 L375.21,544.71 L377.03,544.81 L378.86,544.90 L380.68,544.98 L382.51,545.07 L384.34,545.15 L386.16,545.23 L387.99,545.31 L389.81,545.38 L391.64,545.45 L393.47,545.52 L395.29,545.59 L397.12,545.66 L398.94,545.72 L400.77,545.78 L402.59,545.84 L404.42,545.90 L406.25,545.96 L408.07,546.01 L409.90,546.07 L411.72,546.12 L413.55,546.17 L415.38,546.22 L417.20,546.26 L419.03,546.31 L420.85,546.35 L422.68,546.40 L424.50,546.44 L426.33,546.48 L428.16,546.52 L429.98,546.55 L431.81,546.59 L433.63,546.63 L435.46,546.66 L437.29,546.69 L439.11,546.73 L440.94,546.76 L442.76,546.79 L444.59,546.82 L446.41,546.85 L448.24,546.87 L450.07,546.90 L451.89,546.93 L453.72,546.95 L455.54,546.98 L457.37,547.00 L459.19,547.02 L461.02,547.05 L462.85,547.07 L464.67,547.09 L466.50,547.11 L468.32,547.13 L470.15,547.15 L471.98,547.17 L473.80,547.18 L475.63,547.20 L477.45,547.22 L479.28,547.23 L481.10,547.25 L482.93,547.27 L484.76,547.28 L486.58,547.29 L488.41,547.31 L490.23,547.32 L492.06,547.34 L493.89,547.35 L495.71,547.36 L497.54,547.37 L499.36,547.38 L501.19,547.39 L503.01,547.41 L504.84,547.42 L506.67,547.43 L508.49,547.44 L510.32,547.45 L512.14,547.46 L513.97,547.46 L515.80,547.47 L517.62,547.48 L519.45,547.49 L521.27,547.50 L523.10,547.51 L524.92,547.51 L526.75,547.52 L528.58,547.53 L530.40,547.53 L532.23,547.54 L534.05,547.55 L535.88,547.55 L537.71,547.56 L539.53,547.56 L541.36,547.57 L543.18,547.58 L545.01,547.58 L546.83,547.59 L548.66,547.59 L550.49,547.60 L552.31,547.60 L554.14,547.61 L555.96,547.61 L557.79,547.61 L559.61,547.62 L561.44,547.62 L563.27,547.63 L565.09,547.63 L566.92,547.63 L568.74,547.64 L570.57,547.64 L572.40,547.64 L574.22,547.65 L576.05,547.65 L577.87,547.65 L579.70,547.66 L581.52,547.66 L583.35,547.66 L585.18,547.66 L587.00,547.67 L588.83,547.67 L590.65,547.67 L592.48,547.67 L594.31,547.68 L596.13,547.68 L597.96,547.68 L599.78,547.68 L601.61,547.68 L603.43,547.69 L605.26,547.69 L607.09,547.69 L608.91,547.69 L610.74,547.69 L612.56,547.70 L614.39,547.70 L616.22,547.70 L618.04,547.70 L619.87,547.70 L621.69,547.70 L623.52,547.70 L625.34,547.71 L627.17,547.71 L629.00,547.71 L630.82,547.71 L632.65,547.71 L634.47,547.71 L636.30,547.71 L638.12,547.71 L639.95,547.72 L641.78,547.72 L643.60,547.72 L645.43,547.72 L647.25,547.72 L649.08,547.72 L650.91,547.72 L652.73,547.72 L654.56,547.72 L656.38,547.72 L658.21,547.72 L660.03,547.72 L661.86,547.73 L663.69,547.73 L665.51,547.73 L667.34,547.73 L669.16,547.73 L670.99,547.73 L672.82,547.73 L674.64,547.73 L676.47,547.73 L678.29,547.73 L680.12,547.73 L681.94,547.73 L683.77,547.73 L685.60,547.73 L687.42,547.73 L689.25,547.73 L691.07,547.73 L692.90,547.73 L694.73,547.73 L696.55,547.74 L698.38,547.74 L700.20,547.74 L702.03,547.74 L703.85,547.74 L705.68,547.74 L707.51,547.74 L709.33,547.74 L711.16,547.74 L712.98,547.74 L714.81,547.74 L716.63,547.74 L718.46,547.74 L720.29,547.74 L722.11,547.74 L723.94,547.74 L725.76,547.74 L727.59,547.74 L729.42,547.74 L731.24,547.74 L733.07,547.74 L734.89,547.74 L736.72,547.74 L738.54,547.74 L740.37,547.74 L742.20,547.74 L744.02,547.74 L745.85,547.74 L747.67,547.74 L749.50,547.74 L751.33,547.74 L753.15,547.74 L754.98,547.74 L756.80,547.74 L758.63,547.74 L760.45,547.74 L762.28,547.74 L764.11,547.74 L765.93,547.74 L767.76,547.74 L769.58,547.74 L771.41,547.74 L773.24,547.74 L775.06,547.74 L776.89,547.74 L778.71,547.74 L780.54,547.74 L782.36,547.74 L784.19,547.74 L786.02,547.75 L787.84,547.75 L789.67,547.75 L791.49,547.75 L793.32,547.75 L795.14,547.75 L796.97,547.75 L798.80,547.75 L800.62,547.75 L802.45,547.75 L804.27,547.75 L806.10,547.75 L807.93,547.75 L809.75,547.75 L811.58,547.75 L813.40,547.75 L815.23,547.75 L817.05,547.75 L818.88,547.75 L820.71,547.75 L822.53,547.75 L824.36,547.75 L826.18,547.75 L828.01,547.75 L829.84,547.75 L831.66,547.75 L833.49,547.75 L835.31,547.75 L837.14,547.75 L838.96,547.75 L840.79,547.75 L842.62,547.75 L844.44,547.75 L846.27,547.75 L848.09,547.75 L849.92,547.75 L851.75,547.75 L853.57,547.75 L855.40,547.75 L857.22,547.75 L859.05,547.75 L860.87,547.75 L862.70,547.75" fill="none" stroke="#231f20" stroke-width="3.366" stroke-dasharray="3.366 5.554" stroke-linecap="butt"/></g><g stroke="#231f20"><line x1="118.20" y1="598" x2="118.20" y2="602.5" stroke-width="1.35"/><line x1="155.07" y1="598" x2="155.07" y2="602.5" stroke-width="1.35"/><line x1="183.67" y1="598" x2="183.67" y2="602.5" stroke-width="1.35"/><line x1="207.03" y1="598" x2="207.03" y2="602.5" stroke-width="1.35"/><line x1="226.79" y1="598" x2="226.79" y2="602.5" stroke-width="1.35"/><line x1="243.90" y1="598" x2="243.90" y2="602.5" stroke-width="1.35"/><line x1="259.00" y1="598" x2="259.00" y2="602.5" stroke-width="1.35"/><line x1="272.50" y1="598" x2="272.50" y2="606" stroke-width="1.7"/><line x1="361.33" y1="598" x2="361.33" y2="602.5" stroke-width="1.35"/><line x1="413.30" y1="598" x2="413.30" y2="602.5" stroke-width="1.35"/><line x1="450.17" y1="598" x2="450.17" y2="602.5" stroke-width="1.35"/><line x1="478.77" y1="598" x2="478.77" y2="602.5" stroke-width="1.35"/><line x1="502.13" y1="598" x2="502.13" y2="602.5" stroke-width="1.35"/><line x1="521.89" y1="598" x2="521.89" y2="602.5" stroke-width="1.35"/><line x1="539.00" y1="598" x2="539.00" y2="602.5" stroke-width="1.35"/><line x1="554.10" y1="598" x2="554.10" y2="602.5" stroke-width="1.35"/><line x1="567.60" y1="598" x2="567.60" y2="606" stroke-width="1.7"/><line x1="656.43" y1="598" x2="656.43" y2="602.5" stroke-width="1.35"/><line x1="708.40" y1="598" x2="708.40" y2="602.5" stroke-width="1.35"/><line x1="745.27" y1="598" x2="745.27" y2="602.5" stroke-width="1.35"/><line x1="773.87" y1="598" x2="773.87" y2="602.5" stroke-width="1.35"/><line x1="797.23" y1="598" x2="797.23" y2="602.5" stroke-width="1.35"/><line x1="816.99" y1="598" x2="816.99" y2="602.5" stroke-width="1.35"/><line x1="834.10" y1="598" x2="834.10" y2="602.5" stroke-width="1.35"/><line x1="849.20" y1="598" x2="849.20" y2="602.5" stroke-width="1.35"/><line x1="862.70" y1="598" x2="862.70" y2="606" stroke-width="1.7"/><line x1="98" y1="549.86" x2="93.5" y2="549.86" stroke-width="1.35"/><line x1="98" y1="500.47" x2="93.5" y2="500.47" stroke-width="1.35"/><line x1="98" y1="465.42" x2="93.5" y2="465.42" stroke-width="1.35"/><line x1="98" y1="438.24" x2="93.5" y2="438.24" stroke-width="1.35"/><line x1="98" y1="416.03" x2="93.5" y2="416.03" stroke-width="1.35"/><line x1="98" y1="397.25" x2="93.5" y2="397.25" stroke-width="1.35"/><line x1="98" y1="380.98" x2="93.5" y2="380.98" stroke-width="1.35"/><line x1="98" y1="366.63" x2="93.5" y2="366.63" stroke-width="1.35"/><line x1="98" y1="353.80" x2="90" y2="353.80" stroke-width="1.7"/><line x1="98" y1="269.36" x2="93.5" y2="269.36" stroke-width="1.35"/><line x1="98" y1="219.97" x2="93.5" y2="219.97" stroke-width="1.35"/><line x1="98" y1="184.92" x2="93.5" y2="184.92" stroke-width="1.35"/><line x1="98" y1="157.74" x2="93.5" y2="157.74" stroke-width="1.35"/><line x1="98" y1="135.53" x2="93.5" y2="135.53" stroke-width="1.35"/><line x1="98" y1="116.75" x2="93.5" y2="116.75" stroke-width="1.35"/><line x1="98" y1="100.48" x2="93.5" y2="100.48" stroke-width="1.35"/><line x1="98" y1="86.13" x2="93.5" y2="86.13" stroke-width="1.35"/><line x1="98" y1="73.30" x2="90" y2="73.30" stroke-width="1.7"/></g><rect x="98" y="1" width="801" height="597" fill="none" stroke="#231f20" stroke-width="1.9"/><rect x="542.4" y="16.5" width="341.4" height="283.9" rx="7" ry="7" fill="#fff" fill-opacity="0.8" stroke="#c9cacc" stroke-width="1.8"/><line x1="586.25" y1="26.70" x2="586.25" y2="57.90" stroke="#0173b2" stroke-width="3.6"/><circle cx="586.25" cy="42.30" r="4.8" fill="#0173b2"/><line x1="586.25" y1="118.20" x2="586.25" y2="149.40" stroke="#d46420" stroke-width="3.6"/><circle cx="586.25" cy="133.80" r="4.8" fill="#d46420"/><line x1="586.25" y1="209.70" x2="586.25" y2="240.90" stroke="#48a8db" stroke-width="3.6"/><circle cx="586.25" cy="225.30" r="4.8" fill="#48a8db"/><line x1="554.75" y1="88.05" x2="617.75" y2="88.05" stroke="#231f20" stroke-width="3.366" stroke-linecap="square"/><line x1="554.75" y1="179.55" x2="617.75" y2="179.55" stroke="#231f20" stroke-width="3.366" stroke-dasharray="12.454 5.386"/><line x1="554.75" y1="271.05" x2="617.75" y2="271.05" stroke="#231f20" stroke-width="3.366" stroke-dasharray="3.366 5.554"/><g font-family="Liberation Serif, serif" fill="#231f20" style="will-change:transform"><text transform="translate(242.73,636.27) scale(0.9772,1.0260)" font-size="32.2">10</text><text transform="translate(290.76,624.67) scale(1.0228,1.0006)" font-size="23.2">3</text><text transform="translate(537.83,636.27) scale(0.9772,1.0260)" font-size="32.2">10</text><text transform="translate(585.92,624.20) scale(1.0534,0.9702)" font-size="23.2">2</text><text transform="translate(832.93,636.27) scale(0.9772,1.0260)" font-size="32.2">10</text><text transform="translate(880.92,624.20) scale(0.9674,0.9600)" font-size="23.2">1</text><text transform="translate(40.07,84.58) scale(0.9629,1.0030)" font-size="32.2">10</text><text transform="translate(70.84,72.90) scale(0.9940,0.9629)" font-size="23.2">4</text><text transform="translate(40.07,365.57) scale(0.9629,1.0214)" font-size="32.2">10</text><text transform="translate(70.61,353.86) scale(0.9810,1.0134)" font-size="23.2">3</text><text transform="translate(440.45,674.40) scale(1.0890,1)" font-size="33">T</text><text transform="translate(462.50,674.40) scale(0.8658,1)" font-size="33">i</text><text transform="translate(469.98,674.40) scale(1.0346,1)" font-size="33">m</text><text transform="translate(495.90,674.40) scale(1.0074,1)" font-size="33">e</text><text transform="translate(521.87,674.40) scale(0.8490,1)" font-size="33">(</text><text transform="translate(531.04,674.40) scale(1.0781,1)" font-size="33">s</text><text transform="translate(545.27,674.40) scale(0.8843,1)" font-size="33">)</text><text transform="translate(23.80,478.95) rotate(-90) scale(0.9905,1)" font-size="33">N</text><text transform="translate(23.80,456.49) rotate(-90) scale(0.9992,1)" font-size="33">e</text><text transform="translate(23.80,442.12) rotate(-90) scale(0.9800,1)" font-size="33">u</text><text transform="translate(23.80,425.97) rotate(-90) scale(1.1335,1)" font-size="33">t</text><text transform="translate(23.80,413.62) rotate(-90) scale(1.0865,1)" font-size="33">r</text><text transform="translate(23.80,401.33) rotate(-90) scale(1.0664,1)" font-size="33">a</text><text transform="translate(23.80,386.13) rotate(-90) scale(0.8021,1)" font-size="33">l</text><text transform="translate(23.80,368.07) rotate(-90) scale(1.0072,1)" font-size="33">Y</text><text transform="translate(23.80,344.38) rotate(-90) scale(0.8403,1)" font-size="33">i</text><text transform="translate(23.80,336.49) rotate(-90) scale(0.9992,1)" font-size="33">e</text><text transform="translate(23.80,322.23) rotate(-90) scale(0.8021,1)" font-size="33">l</text><text transform="translate(23.80,314.30) rotate(-90) scale(1.0123,1)" font-size="33">d</text><text transform="translate(23.80,285.35) rotate(-90) scale(0.8607,1)" font-size="33">(</text><text transform="translate(23.80,274.09) rotate(-90) scale(0.8855,1)" font-size="33">A</text><text transform="translate(23.80,252.30) rotate(-90) scale(1.0566,1)" font-size="33">r</text><text transform="translate(23.80,239.90) rotate(-90) scale(1.0495,1)" font-size="33">b</text><text transform="translate(23.80,222.70) rotate(-90) scale(0.8731,1)" font-size="33">.</text><text transform="translate(23.80,204.35) rotate(-90) scale(0.9358,1)" font-size="33">U</text><text transform="translate(23.80,182.02) rotate(-90) scale(1.0757,1)" font-size="33">n</text><text transform="translate(23.80,164.17) rotate(-90) scale(0.8276,1)" font-size="33">i</text><text transform="translate(23.80,156.09) rotate(-90) scale(1.1913,1)" font-size="33">t</text><text transform="translate(23.80,144.85) rotate(-90) scale(1.0004,1)" font-size="33">s</text><text transform="translate(23.80,131.45) rotate(-90) scale(0.8961,1)" font-size="33">)</text><text transform="translate(642.54,54.05) scale(1.0030,1.0507)" font-size="33">C</text><text transform="translate(664.91,58.30) scale(0.9675,0.8269)" font-size="23.2">24</text><text transform="translate(688.47,54.10) scale(0.9675,1.0271)" font-size="33">H</text><text transform="translate(642.54,145.55) scale(1.0030,1.0507)" font-size="33">C</text><text transform="translate(664.89,149.61) scale(0.9918,0.8146)" font-size="23.2">23</text><text transform="translate(688.47,145.60) scale(0.9675,1.0271)" font-size="33">H</text><text transform="translate(642.54,237.05) scale(1.0030,1.0507)" font-size="33">C</text><text transform="translate(664.87,241.30) scale(1.0094,0.8269)" font-size="23.2">22</text><text transform="translate(688.47,237.10) scale(0.9675,1.0271)" font-size="33">H</text><text transform="translate(722.67,99.00) scale(0.9982,1.0000)" font-size="32.2">1.69</text><text transform="translate(815.81,99.00) scale(0.9742,1.0000)" font-size="32.2">0.04</text><text transform="translate(722.71,190.50) scale(0.9838,1.0000)" font-size="32.2">1.76</text><text transform="translate(815.81,190.50) scale(0.9690,1.0000)" font-size="32.2">0.05</text><text transform="translate(724.15,282.00) scale(0.9533,1.0000)" font-size="32.2">2.20</text><text transform="translate(815.80,282.00) scale(0.9807,1.0000)" font-size="32.2">0.11</text></g><g stroke="#231f20" stroke-linecap="round"><line x1="275.72" y1="618.60" x2="288.88" y2="618.60" stroke-width="1.05"/><line x1="570.82" y1="618.60" x2="583.98" y2="618.60" stroke-width="1.05"/><line x1="865.93" y1="618.60" x2="879.08" y2="618.60" stroke-width="1.05"/><line x1="713.25" y1="36.40" x2="727.45" y2="36.40" stroke-width="1.1"/><line x1="720.10" y1="29.65" x2="720.10" y2="43.35" stroke-width="1.1"/><line x1="713.25" y1="127.90" x2="727.45" y2="127.90" stroke-width="1.1"/><line x1="720.10" y1="121.15" x2="720.10" y2="134.85" stroke-width="1.1"/><line x1="713.25" y1="219.40" x2="727.45" y2="219.40" stroke-width="1.1"/><line x1="720.10" y1="212.65" x2="720.10" y2="226.35" stroke-width="1.1"/><line x1="669.00" y1="88.20" x2="688.20" y2="88.20" stroke-width="1.4"/><line x1="669.00" y1="94.00" x2="688.20" y2="94.00" stroke-width="1.4"/><line x1="702.60" y1="91.10" x2="720.30" y2="91.10" stroke-width="1.4"/><line x1="787.60" y1="88.45" x2="807.10" y2="88.45" stroke-width="1.4"/><line x1="787.60" y1="98.20" x2="807.10" y2="98.20" stroke-width="1.4"/><line x1="797.30" y1="78.80" x2="797.30" y2="98.20" stroke-width="1.4"/><line x1="669.00" y1="179.70" x2="688.20" y2="179.70" stroke-width="1.4"/><line x1="669.00" y1="185.50" x2="688.20" y2="185.50" stroke-width="1.4"/><line x1="702.60" y1="182.60" x2="720.30" y2="182.60" stroke-width="1.4"/><line x1="787.60" y1="179.95" x2="807.10" y2="179.95" stroke-width="1.4"/><line x1="787.60" y1="189.70" x2="807.10" y2="189.70" stroke-width="1.4"/><line x1="797.30" y1="170.30" x2="797.30" y2="189.70" stroke-width="1.4"/><line x1="669.00" y1="271.20" x2="688.20" y2="271.20" stroke-width="1.4"/><line x1="669.00" y1="277.00" x2="688.20" y2="277.00" stroke-width="1.4"/><line x1="702.60" y1="274.10" x2="720.30" y2="274.10" stroke-width="1.4"/><line x1="787.60" y1="271.45" x2="807.10" y2="271.45" stroke-width="1.4"/><line x1="787.60" y1="281.20" x2="807.10" y2="281.20" stroke-width="1.4"/><line x1="797.30" y1="261.80" x2="797.30" y2="281.20" stroke-width="1.4"/></g><g stroke="#231f20" fill="none" stroke-linecap="round" stroke-linejoin="round" style="fill:none"><g transform="translate(0,0.0)"><path d="M712.4,54.4 Q713.4,51.3 715.7,51.3 Q717.6,51.4 717.5,53.2" stroke-width="1.0"/><path d="M717.6,52.6 L716.9,59.8" stroke-width="1.5"/><path d="M716.9,59.6 Q716.6,61.6 714.4,61.5 Q713.0,61.4 712.8,60.0" stroke-width="1.0"/><path d="M722.2,52.9 Q721.9,51.3 720.4,51.3 Q718.3,51.5 717.6,53.6" stroke-width="1.0"/><path d="M716.9,59.4 Q717.3,61.6 719.4,61.6 Q721.7,61.4 722.7,58.5" stroke-width="1.0"/><circle cx="712.9" cy="59.8" r="1.05" stroke="none" style="fill:#231f20"/><circle cx="722.0" cy="52.9" r="1.05" stroke="none" style="fill:#231f20"/></g><g transform="translate(0,91.5)"><path d="M712.4,54.4 Q713.4,51.3 715.7,51.3 Q717.6,51.4 717.5,53.2" stroke-width="1.0"/><path d="M717.6,52.6 L716.9,59.8" stroke-width="1.5"/><path d="M716.9,59.6 Q716.6,61.6 714.4,61.5 Q713.0,61.4 712.8,60.0" stroke-width="1.0"/><path d="M722.2,52.9 Q721.9,51.3 720.4,51.3 Q718.3,51.5 717.6,53.6" stroke-width="1.0"/><path d="M716.9,59.4 Q717.3,61.6 719.4,61.6 Q721.7,61.4 722.7,58.5" stroke-width="1.0"/><circle cx="712.9" cy="59.8" r="1.05" stroke="none" style="fill:#231f20"/><circle cx="722.0" cy="52.9" r="1.05" stroke="none" style="fill:#231f20"/></g><g transform="translate(0,183.0)"><path d="M712.4,54.4 Q713.4,51.3 715.7,51.3 Q717.6,51.4 717.5,53.2" stroke-width="1.0"/><path d="M717.6,52.6 L716.9,59.8" stroke-width="1.5"/><path d="M716.9,59.6 Q716.6,61.6 714.4,61.5 Q713.0,61.4 712.8,60.0" stroke-width="1.0"/><path d="M722.2,52.9 Q721.9,51.3 720.4,51.3 Q718.3,51.5 717.6,53.6" stroke-width="1.0"/><path d="M716.9,59.4 Q717.3,61.6 719.4,61.6 Q721.7,61.4 722.7,58.5" stroke-width="1.0"/><circle cx="712.9" cy="59.8" r="1.05" stroke="none" style="fill:#231f20"/><circle cx="722.0" cy="52.9" r="1.05" stroke="none" style="fill:#231f20"/></g><g transform="translate(0,0.0)"><path d="M643.6,89.6 Q644.6,85.6 647.0,85.4 Q648.4,85.4 648.2,87.2" stroke-width="1.0"/><path d="M648.3,86.0 L645.0,104.3" stroke-width="1.9"/><path d="M642.0,104.5 L648.2,104.5" stroke-width="1.0"/><path d="M648.0,89.8 C649.4,86.4 652.2,85.2 654.4,85.3 C656.9,85.5 657.9,87.6 657.2,90.5 C656.3,94.6 653.4,99.1 650.4,99.1 C648.8,99.1 647.9,98.0 647.7,96.8" stroke-width="1.5"/></g><g transform="translate(0,91.5)"><path d="M643.6,89.6 Q644.6,85.6 647.0,85.4 Q648.4,85.4 648.2,87.2" stroke-width="1.0"/><path d="M648.3,86.0 L645.0,104.3" stroke-width="1.9"/><path d="M642.0,104.5 L648.2,104.5" stroke-width="1.0"/><path d="M648.0,89.8 C649.4,86.4 652.2,85.2 654.4,85.3 C656.9,85.5 657.9,87.6 657.2,90.5 C656.3,94.6 653.4,99.1 650.4,99.1 C648.8,99.1 647.9,98.0 647.7,96.8" stroke-width="1.5"/></g><g transform="translate(0,183.0)"><path d="M643.6,89.6 Q644.6,85.6 647.0,85.4 Q648.4,85.4 648.2,87.2" stroke-width="1.0"/><path d="M648.3,86.0 L645.0,104.3" stroke-width="1.9"/><path d="M642.0,104.5 L648.2,104.5" stroke-width="1.0"/><path d="M648.0,89.8 C649.4,86.4 652.2,85.2 654.4,85.3 C656.9,85.5 657.9,87.6 657.2,90.5 C656.3,94.6 653.4,99.1 650.4,99.1 C648.8,99.1 647.9,98.0 647.7,96.8" stroke-width="1.5"/></g></g></svg></body></html>
